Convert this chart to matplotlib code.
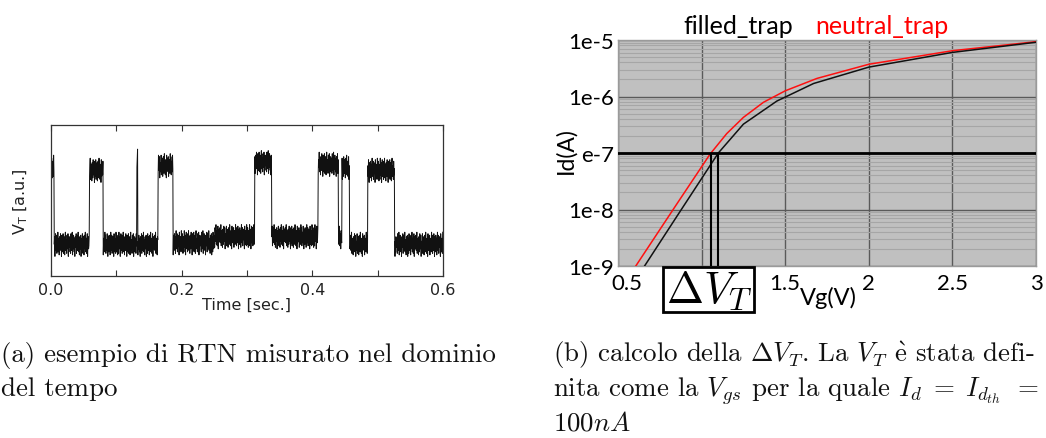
import numpy as np
import matplotlib
matplotlib.use("Agg")
import matplotlib.pyplot as plt
from matplotlib.patches import Rectangle
from matplotlib.transforms import ScaledTranslation
from matplotlib.ticker import FixedLocator, LogLocator, NullFormatter

plt.rcParams["mathtext.fontset"] = "cm"

# ---------------- (a) random telegraph noise trace ----------------
seg_start = [0.000, 0.005, 0.0586, 0.080, 0.1315, 0.1330, 0.164, 0.187, 0.250,
             0.312, 0.338, 0.409, 0.440, 0.4455, 0.4570, 0.485, 0.526]
seg_end = [0.005, 0.0586, 0.080, 0.1315, 0.1330, 0.164, 0.187, 0.250, 0.312,
           0.338, 0.409, 0.440, 0.4455, 0.4570, 0.485, 0.526, 0.600]
seg_level = [0.72, 0.21, 0.70, 0.21, 0.76, 0.21, 0.73, 0.22, 0.26,
             0.75, 0.26, 0.74, 0.25, 0.72, 0.21, 0.70, 0.21]
# fluctuation around each level (hundredths of a.u.), one value per sample
jitter = [3, -5, 6, -2, -7, 4, 1, -6, 8, -3, 0, 5, -8, 2, 7, -4, -1, 6, -6, 3,
          -2, 8, -5, 1, 4, -7, 5, -1, -4, 7, -3, 2, -8, 6, 0, -5, 3, 7, -6, 1,
          5, -2, -7, 4, 8, -4, -1, 3, -6, 6, -3, 1, 7, -8, 2, -5, 5, 0, -2, 4,
          -6, 7, -1, -4, 3, 8, -7, 2, -3, 6, 1, -5, 4, -8, 5, -2, 0, 7, -6, 3,
          6, -4, -2, 8, -5, 1, 3, -7, 5, -1, -3, 6, -8, 2, 4, -6, 7, 0, -4, 5,
          -1, -7, 6, 2, -3, 8, -5, -2, 4, -6, 3, 7, -8, 1, 5, -3, -1, 6, -4, 2,
          8, -6, 0, 4, -2, -7, 5, 3, -5, 7, -1, -3, 6, -8, 2, 1, -4, 7, -6, 4,
          -3, 5, -7, 1, 6, -2, -5, 8, -1, 3, -6, 4, 2, -8, 7, -4, 0, 5, -3, 6,
          -7, 2, 4, -1, -5, 8, -3, 6, -6, 1, 3, -4, 7, -2, -8, 5, 0, -5, 6, -1,
          4, -7, 2, 8, -3, -4, 6, -6, 1, 5, -2, 3, -8, 7, -1, -5, 4, 2, -6, 8]
time_ticks = [0.0, 0.2, 0.4, 0.6]
time_labels = ["0.0", "0.2", "0.4", "0.6"]

# ---------------- (b) Id-Vg characteristics ----------------
vg_neutral = [0.55, 0.85, 1.05, 1.15, 1.25, 1.37, 1.50, 1.69, 2.00, 2.50, 3.00]
id_neutral = [5.6e-10, 1.23e-8, 9.5e-8, 2.2e-7, 4.27e-7, 7.9e-7, 1.26e-6,
              2.09e-6, 3.72e-6, 6.46e-6, 9.33e-6]
vg_filled = [0.60, 0.85, 1.10, 1.25, 1.45, 1.67, 2.00, 2.50, 3.00]
id_filled = [5.4e-10, 7.4e-9, 1.0e-7, 3.24e-7, 8.3e-7, 1.70e-6, 3.31e-6,
             6.03e-6, 9.12e-6]
id_th = 1e-7
vg_ticks = [0.5, 1.0, 1.5, 2.0, 2.5, 3.0]
vg_labels = ["0.5", "", "1.5", "2", "2.5", "3"]
id_ticks = [1e-9, 1e-8, 1e-7, 1e-6, 1e-5]
id_labels = ["1e-9", "1e-8", "e-7", "1e-6", "1e-5"]

W, H = 1046, 439
fig = plt.figure(figsize=(W / 100, H / 100), dpi=100)


def px_axes(left, top, right, bottom):
    return fig.add_axes([left / W, 1 - bottom / H, (right - left) / W,
                         (bottom - top) / H])


def fig_xy(x, y):
    return x / W, 1 - y / H


# ---- panel (a)
ax1 = px_axes(51, 126, 443, 277)
dt = 0.0005
t = np.arange(0.0, 0.6, dt)
level = np.zeros_like(t)
for s, e, v in zip(seg_start, seg_end, seg_level):
    level[(t >= s) & (t < e)] = v
noise = np.resize(np.array(jitter) * 0.01, t.size)
ax1.plot(t, level + noise, color="#111111", lw=0.7)
ax1.set_xlim(0, 0.6)
ax1.set_ylim(0, 1)
ax1.xaxis.set_major_locator(FixedLocator(time_ticks))
ax1.set_xticklabels(time_labels)
ax1.xaxis.set_minor_locator(FixedLocator([0.1, 0.3, 0.5]))
ax1.set_yticks([])
ax1.tick_params(axis="x", which="both", direction="in", top=True, length=4,
                width=0.8, color="#333333", labelsize=11.5, pad=4,
                labelcolor="#222222")
for sp in ax1.spines.values():
    sp.set_color("#333333")
    sp.set_linewidth(0.9)
ax1.set_xlabel("Time [sec.]", fontsize=11.5, color="#222222", labelpad=0)
ax1.set_ylabel(r"$\mathregular{V_T}$ [a.u.]", fontsize=11.5, color="#222222")
ax1.yaxis.set_label_coords(-21 / 392, 0.5)

# ---- panel (b)
ax2 = px_axes(618, 41, 1036, 267)
ax2.set_facecolor("#c0c0c0")
ax2.set_yscale("log")
ax2.set_xlim(0.5, 3.0)
ax2.set_ylim(1e-9, 1e-5)
ax2.yaxis.set_minor_locator(LogLocator(base=10, subs=np.arange(2, 10)))
ax2.yaxis.set_minor_formatter(NullFormatter())
ax2.grid(True, which="minor", axis="y", color="#a6a6a6", lw=0.8)
ax2.grid(True, which="major", axis="both", color="#5a5a5a", lw=1.0)
ax2.set_axisbelow(True)

ax2.plot(vg_neutral, id_neutral, color="#ff1010", lw=1.1, zorder=3)
ax2.plot(vg_filled, id_filled, color="#111111", lw=1.1, zorder=3)
ax2.axhline(id_th, color="black", lw=2.0, zorder=4)
vt_neutral = np.interp(np.log10(id_th), np.log10(id_neutral), vg_neutral)
vt_filled = np.interp(np.log10(id_th), np.log10(id_filled), vg_filled)
ax2.vlines([vt_neutral, vt_filled], 1e-9, id_th, color="black", lw=1.5,
           zorder=4)

ax2.set_xticks(vg_ticks)
ax2.set_xticklabels(vg_labels)
ax2.set_yticks(id_ticks)
ax2.set_yticklabels(id_labels)
ax2.tick_params(which="both", length=0)
ax2.tick_params(axis="x", labelsize=16, pad=5)
ax2.tick_params(axis="y", labelsize=16, pad=3)
first = ax2.get_xticklabels()[0]
first.set_transform(first.get_transform()
                    + ScaledTranslation(0.09, 0, fig.dpi_scale_trans))
for lab in ax2.get_xticklabels() + ax2.get_yticklabels():
    lab.set_fontfamily("Lato")
for name, sp in ax2.spines.items():
    sp.set_color("#9a9a9a")
    sp.set_linewidth(1.0)

fig.text(*fig_xy(738, 34), "filled_trap", family="Lato", fontsize=18,
         color="black", ha="center", va="baseline")
fig.text(*fig_xy(882, 34), "neutral_trap", family="Lato", fontsize=18,
         color="#ff0000", ha="center", va="baseline")
fig.text(*fig_xy(566, 151), "Id(A)", family="Lato", fontsize=16.5,
         rotation=90, ha="center", va="center")
fig.text(*fig_xy(828, 298), "Vg(V)", family="Lato", fontsize=17,
         ha="center", va="center")

x0, y0 = fig_xy(663, 313)
x1, y1 = fig_xy(754, 268)
fig.patches.append(Rectangle((x0, y0), x1 - x0, y1 - y0,
                             transform=fig.transFigure, facecolor="white",
                             edgecolor="black", lw=2.0, zorder=5))
fig.text(*fig_xy(709, 291), r"$\Delta V_T$", fontsize=32, ha="center",
         va="center", zorder=6)

# ---- captions
cap = dict(family=["cmr10", "DejaVu Serif"], fontsize=19.4, va="baseline",
           ha="left", color="#111111")
fig.text(*fig_xy(1, 362), "(a) esempio di RTN misurato nel dominio", **cap)
fig.text(*fig_xy(1, 396), "del tempo", **cap)
fig.text(*fig_xy(553, 362),
         r"(b) calcolo della $\Delta V_T$. La $V_T$ $\mathrm{\grave{e}}$ stata defi-",
         **cap)
fig.text(*fig_xy(553, 397),
         r"nita come la $V_{gs}$ per la quale $I_d\;=\;I_{d_{th}}\;\,=$", **cap)
fig.text(*fig_xy(553, 431), r"$100nA$", **cap)

fig.savefig("out.png", dpi=100)
